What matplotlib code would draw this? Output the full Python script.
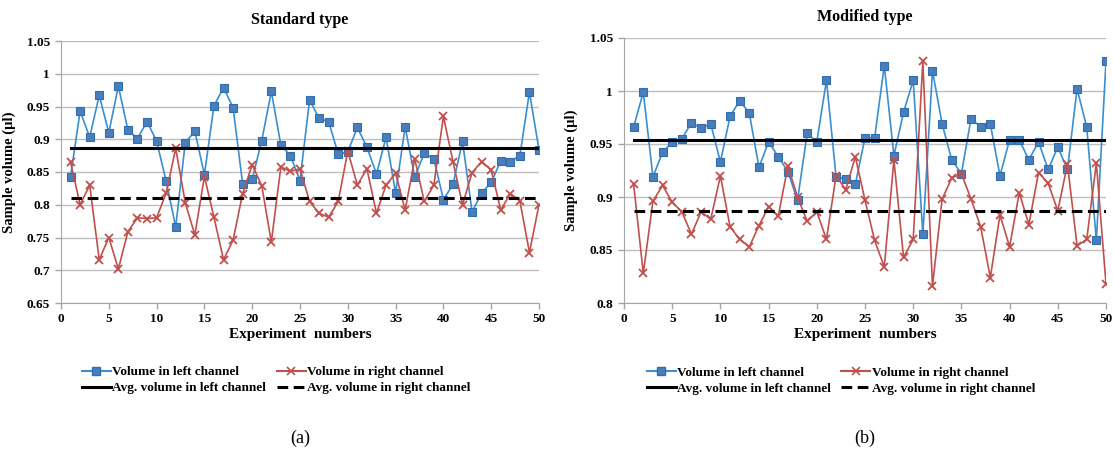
import matplotlib.pyplot as plt
from matplotlib.lines import Line2D

plt.rcParams['font.family'] = ['Liberation Serif', 'DejaVu Serif']
plt.rcParams['font.weight'] = 'bold'

experiments = list(range(1, 51))

# (a) standard type
std_left = [0.843, 0.943, 0.903, 0.967, 0.910, 0.981, 0.914, 0.901, 0.927, 0.897,
            0.836, 0.766, 0.895, 0.912, 0.846, 0.951, 0.979, 0.948, 0.832, 0.839,
            0.898, 0.973, 0.891, 0.875, 0.837, 0.960, 0.932, 0.927, 0.877, 0.881,
            0.918, 0.888, 0.847, 0.903, 0.818, 0.919, 0.842, 0.879, 0.870, 0.808,
            0.831, 0.897, 0.789, 0.818, 0.834, 0.867, 0.866, 0.875, 0.972, 0.884]
std_right = [0.865, 0.800, 0.830, 0.716, 0.750, 0.702, 0.759, 0.780, 0.779, 0.780,
             0.818, 0.886, 0.803, 0.754, 0.843, 0.781, 0.716, 0.746, 0.817, 0.861,
             0.829, 0.743, 0.858, 0.851, 0.855, 0.805, 0.787, 0.781, 0.805, 0.882,
             0.830, 0.855, 0.787, 0.830, 0.848, 0.792, 0.870, 0.805, 0.830, 0.935,
             0.866, 0.800, 0.849, 0.866, 0.853, 0.792, 0.817, 0.806, 0.727, 0.800]
std_avg_left = 0.887
std_avg_right = 0.810

# (b) modified type
mod_left = [0.966, 0.999, 0.919, 0.942, 0.952, 0.955, 0.970, 0.965, 0.969, 0.933,
            0.976, 0.991, 0.979, 0.928, 0.952, 0.938, 0.924, 0.897, 0.960, 0.952,
            1.010, 0.919, 0.917, 0.912, 0.956, 0.956, 1.024, 0.939, 0.980, 1.010,
            0.865, 1.019, 0.969, 0.935, 0.922, 0.974, 0.966, 0.969, 0.920, 0.954,
            0.954, 0.935, 0.952, 0.926, 0.947, 0.926, 1.002, 0.966, 0.859, 1.028]
mod_right = [0.912, 0.828, 0.896, 0.911, 0.895, 0.886, 0.865, 0.886, 0.879, 0.920,
             0.872, 0.860, 0.853, 0.873, 0.891, 0.882, 0.929, 0.900, 0.877, 0.886,
             0.860, 0.920, 0.907, 0.938, 0.897, 0.859, 0.834, 0.935, 0.843, 0.860,
             1.028, 0.816, 0.898, 0.918, 0.922, 0.898, 0.872, 0.824, 0.883, 0.853,
             0.904, 0.874, 0.923, 0.913, 0.887, 0.931, 0.854, 0.860, 0.932, 0.818]
mod_avg_left = 0.954
mod_avg_right = 0.887

blue_line = '#3B8FD0'
blue_mark = '#4A7EBB'
red = '#C0504D'
grid_c = '#BFBFBF'

fig = plt.figure(figsize=(11.14, 4.54), dpi=100)
ax_a = fig.add_axes([61 / 1114, 1 - 303 / 454, 478 / 1114, 262 / 454])
ax_b = fig.add_axes([624 / 1114, 1 - 303 / 454, 482 / 1114, 265 / 454])


def draw_panel(ax, left, right, avg_l, avg_r, title, ylim, step, tag, cx, ylab_x):
    ax.plot(experiments, left, color=blue_line, lw=1.2, marker='s', ms=6,
            mfc=blue_mark, mec='#2F6FB0', mew=0.8, zorder=3)
    ax.plot(experiments, right, color=red, lw=1.2, marker='x', ms=6,
            mew=1.3, zorder=3)
    ax.plot([experiments[0], experiments[-1]], [avg_l, avg_l], color='black', lw=2.2, zorder=4)
    ax.plot([experiments[0], experiments[-1]], [avg_r, avg_r], color='black', lw=2.2,
            ls=(0, (3.5, 1.8)), zorder=4)
    ax.set_xlim(0, 50)
    ax.set_ylim(*ylim)
    ax.set_xticks(range(0, 51, 5))
    yt = [round(ylim[0] + i * step, 2) for i in range(int(round((ylim[1] - ylim[0]) / step)) + 1)]
    ax.set_yticks(yt)
    ax.set_yticklabels([f'{v:g}' for v in yt])
    ax.grid(axis='y', color=grid_c, lw=1)
    ax.set_axisbelow(True)
    for s in ['top', 'right']:
        ax.spines[s].set_visible(False)
    for s in ['left', 'bottom']:
        ax.spines[s].set_color('#A6A6A6')
    ax.tick_params(colors='#A6A6A6', labelcolor='black', labelsize=9.5, length=4, width=1)
    ax.tick_params(axis='y', pad=4)
    ax.set_title(title, fontsize=11.5, fontweight='bold', pad=12)
    ax.set_xlabel('Experiment  numbers', fontsize=11, fontweight='bold', labelpad=2)
    ax.set_ylabel('Sample volume (µl)', fontsize=10.5, fontweight='bold')
    ax.yaxis.set_label_coords(ylab_x, 0.5)
    handles = [
        Line2D([], [], color=blue_line, marker='s', ms=6, mfc=blue_mark, mec='#2F6FB0'),
        Line2D([], [], color=red, marker='x', ms=6, mew=1.2),
        Line2D([], [], color='black', lw=2.2),
        Line2D([], [], color='black', lw=2.2, ls=(0, (3.5, 1.8))),
    ]
    labels = ['Volume in left channel', 'Volume in right channel',
              'Avg. volume in left channel', 'Avg. volume in right channel']
    order = [0, 2, 1, 3]
    ax.legend([handles[i] for i in order], [labels[i] for i in order], ncol=2,
              loc='upper center', bbox_to_anchor=(0.45, -0.195), frameon=False,
              handlelength=2.2, handletextpad=0.1, columnspacing=0.8,
              labelspacing=0.3, prop={'weight': 'bold', 'size': 9.5})
    fig.text(cx / 1114, 1 - 438 / 454, tag, ha='center', va='center', fontsize=13,
             fontweight='normal')


draw_panel(ax_a, std_left, std_right, std_avg_left, std_avg_right, 'Standard type',
           (0.65, 1.05), 0.05, '(a)', 300, (16 - 61) / 478)
draw_panel(ax_b, mod_left, mod_right, mod_avg_left, mod_avg_right, 'Modified type',
           (0.8, 1.05), 0.05, '(b)', 865, (578 - 624) / 482)

fig.savefig('out.png', dpi=100)
